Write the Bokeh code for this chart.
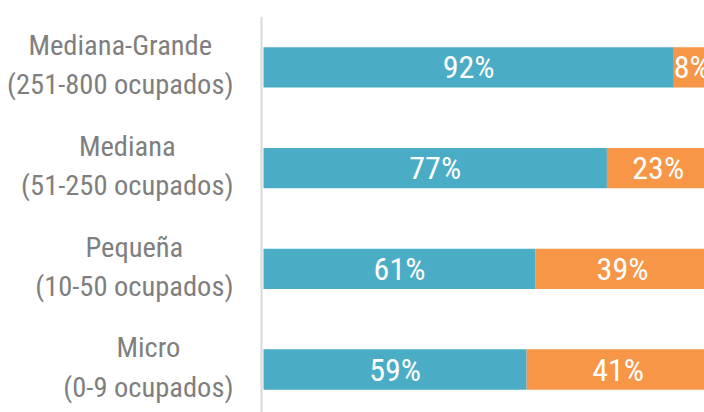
from bokeh.plotting import figure
from bokeh.models import Range1d, ColumnDataSource, Span
from bokeh.core.properties import value
from bokeh.embed import file_html
from bokeh.resources import INLINE

# Data (top to bottom)
categories = ["Mediana-Grande\n(251-800 ocupados)",
              "Mediana\n(51-250 ocupados)",
              "Pequeña\n(10-50 ocupados)",
              "Micro\n(0-9 ocupados)"]
share_a = [92, 77, 61, 59]   # blue
share_b = [8, 23, 39, 41]    # orange

BLUE = "#4BACC6"
ORANGE = "#F79646"
FONT = "Roboto Condensed, DejaVu Sans Condensed, Roboto, sans-serif"

n = len(categories)
ypos = [n - 1 - i for i in range(n)]

p = figure(width=704, height=412, output_backend="svg", toolbar_location=None,
           x_range=Range1d(-58.97, 98.88), y_range=Range1d(-0.427, 3.506),
           min_border_left=0, min_border_right=0, min_border_top=16, min_border_bottom=0)

left_b = share_a
right_b = [a + b for a, b in zip(share_a, share_b)]
src = ColumnDataSource(dict(
    y=ypos, a=share_a, lb=left_b, rb=right_b,
    zero=[0] * n,
    cat=categories,
    xa=[a / 2 for a in share_a],
    xb=[a + b / 2 for a, b in zip(share_a, share_b)],
    ta=[f"{a}%" for a in share_a],
    tb=[f"{b}%" for b in share_b],
))

# vertical axis line
p.add_layout(Span(location=-0.45, dimension="height", line_color="#D9D9D9", line_width=2))

p.hbar(y="y", left="zero", right="a", height=0.4, source=src, fill_color=BLUE, line_color=None)
p.hbar(y="y", left="lb", right="rb", height=0.4, source=src, fill_color=ORANGE, line_color=None)

for xcol, tcol in (("xa", "ta"), ("xb", "tb")):
    p.text(x=xcol, y="y", text=tcol, source=src, text_color="white",
           text_font=value(FONT), text_font_size="32px",
           text_align="center", text_baseline="middle")

# category labels (right-aligned block, centered lines)
p.text(x="zero", y="y", text="cat", source=src, x_offset=-30, y_offset=-2,
       text_color="#7F7F7F", text_font=value(FONT), text_font_size="28.5px",
       text_align="center", anchor="center_right", text_line_height=1.185)

p.xaxis.visible = False
p.yaxis.visible = False
p.xgrid.visible = False
p.ygrid.visible = False
p.outline_line_color = None

open("out.html", "w").write(file_html(p, INLINE))
